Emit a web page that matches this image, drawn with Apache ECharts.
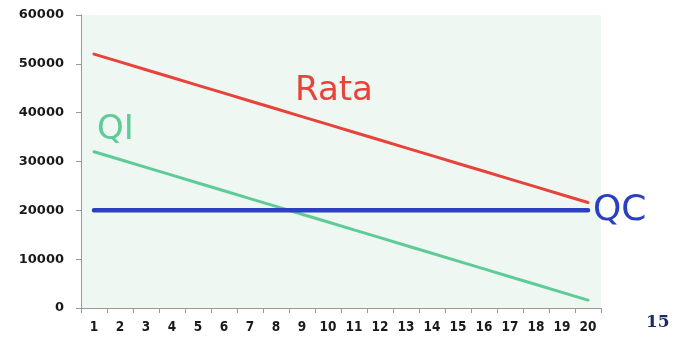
<!DOCTYPE html>
<html>
<head>
<meta charset="utf-8">
<script src="https://cdn.jsdelivr.net/npm/echarts@6/dist/echarts.min.js"></script>
<style>
  html, body { margin: 0; padding: 0; background: #fff; }
  #chart { width: 673px; height: 344px; }
</style>
</head>
<body>
<div id="chart"></div>
<script>
// Years of the repayment plan
const years = ['1','2','3','4','5','6','7','8','9','10','11','12','13','14','15','16','17','18','19','20'];
// Instalment (Rata) = principal share (QC) + interest share (QI)
const rata = [52000, 50400, 48800, 47200, 45600, 44000, 42400, 40800, 39200, 37600,
              36000, 34400, 32800, 31200, 29600, 28000, 26400, 24800, 23200, 21600];
const qi   = [32000, 30400, 28800, 27200, 25600, 24000, 22400, 20800, 19200, 17600,
              16000, 14400, 12800, 11200, 9600, 8000, 6400, 4800, 3200, 1600];
const qc   = [20000, 20000, 20000, 20000, 20000, 20000, 20000, 20000, 20000, 20000,
              20000, 20000, 20000, 20000, 20000, 20000, 20000, 20000, 20000, 20000];

const chart = echarts.init(document.getElementById('chart'));

chart.setOption({
  animation: false,
  grid: {
    left: 81, right: 72, top: 15, bottom: 36,
    show: true, backgroundColor: '#EEF7F1', borderWidth: 0
  },
  xAxis: {
    type: 'category',
    data: years,
    boundaryGap: true,
    axisLine: { lineStyle: { color: '#999', width: 1 } },
    axisTick: { show: true, length: 5, lineStyle: { color: '#999' } },
    axisLabel: {
      margin: 12, interval: 0,
      fontFamily: 'DejaVu Sans Condensed', fontSize: 13.5, fontWeight: 'bold', color: '#1a1a1a'
    },
    splitLine: { show: false }
  },
  yAxis: {
    type: 'value',
    min: 0, max: 60000, interval: 10000,
    axisLine: { show: true, lineStyle: { color: '#999', width: 1 } },
    axisTick: { show: true, length: 5, lineStyle: { color: '#999' } },
    axisLabel: {
      margin: 17, formatter: v => String(v),
      fontFamily: 'DejaVu Sans', fontSize: 13, fontWeight: 'bold', color: '#1a1a1a'
    },
    splitLine: { show: false }
  },
  series: [
    {
      name: 'Rata', type: 'line', data: rata, symbol: 'none',
      lineStyle: { color: '#E8433A', width: 3, cap: 'round' }
    },
    {
      name: 'QI', type: 'line', data: qi, symbol: 'none',
      lineStyle: { color: '#5FCB96', width: 3, cap: 'round' }
    },
    {
      name: 'QC', type: 'line', data: qc, symbol: 'none',
      lineStyle: { color: '#2B40C0', width: 4.5, cap: 'round' }
    }
  ],
  graphic: [
    { type: 'text', left: 295, top: 74,
      style: { text: 'Rata', fill: '#E8433A', font: '34px "DejaVu Sans"' } },
    { type: 'text', left: 97, top: 113,
      style: { text: 'QI', fill: '#5FCB96', font: '34px "DejaVu Sans"' } },
    { type: 'text', left: 593, top: 193,
      style: { text: 'QC', fill: '#2B40C0', font: '36px "DejaVu Sans"' } },
    { type: 'text', left: 646, top: 314,
      style: { text: '15', fill: '#1F2A6B', font: 'bold 17px "DejaVu Serif"' } }
  ]
});
</script>
</body>
</html>
